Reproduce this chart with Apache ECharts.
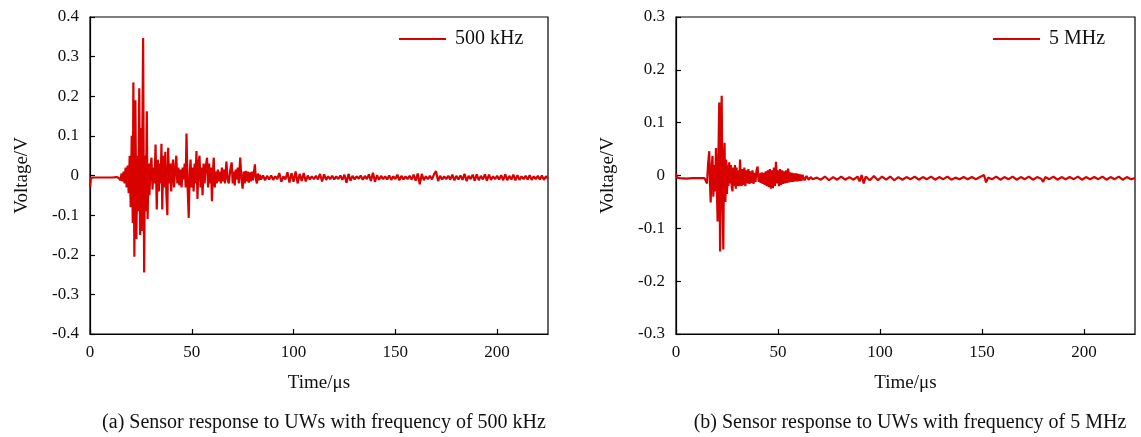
<!DOCTYPE html>
<html>
<head>
<meta charset="utf-8">
<script src="https://cdn.jsdelivr.net/npm/echarts@6/dist/echarts.min.js"></script>
<style>
  html, body { margin: 0; padding: 0; background: #fff; }
  #chart { width: 1141px; height: 437px; }
</style>
</head>
<body>
<div id="chart"></div>
<script>
// x ticks shared by both panels
const timeTicks = [0, 50, 100, 150, 200];

// (a) 500 kHz, [time us, voltage V]
const burst500k = [
  [0, -0.03], [0.5, -0.006], [2, -0.005], [5, -0.005], [8, -0.005], [11, -0.005], [13, -0.004], [14, -0.006],
  [14.5, -0.002], [15, -0.012], [15.5, 0.005], [16, -0.015], [16.5, 0.01], [17, -0.02], [17.5, 0.02], [18, -0.03],
  [18.5, 0.025], [19, -0.045], [19.5, 0.05], [20, -0.08], [20.5, 0.1], [21, -0.12], [21.3, 0.235], [21.8, -0.205],
  [22.3, 0.19], [22.8, -0.16], [23.3, 0.05], [23.7, -0.09], [24.2, 0.22], [24.6, -0.15], [25, 0.12], [25.4, -0.14],
  [25.7, 0.1], [26.1, 0.347], [26.6, -0.245], [27, 0.05], [27.4, -0.09], [27.9, 0.162], [28.3, -0.11], [28.8, 0.03],
  [29.2, -0.05], [29.7, 0.02], [30.2, 0.045], [30.7, -0.035], [31.2, 0.02], [31.7, -0.02], [32.2, 0.078], [32.8, -0.086],
  [33.3, 0.04], [33.8, -0.04], [34.3, 0.03], [34.7, -0.02], [35.1, 0.08], [35.5, -0.086], [36, 0.05], [36.5, -0.03],
  [37, 0.06], [37.5, -0.045], [38, -0.1], [38.4, 0.07], [38.9, -0.02], [39.4, 0.03], [39.9, -0.04], [40.4, 0.02],
  [40.8, 0.04], [41.3, -0.03], [41.8, 0.01], [42.4, 0.05], [42.9, -0.02], [43.4, 0.02], [43.9, -0.025], [44.4, 0.015],
  [45, -0.03], [45.5, 0.02], [46, -0.01], [46.5, 0.03], [47, -0.03], [47.4, 0.106], [47.9, -0.02], [48.5, -0.107],
  [49, 0.01], [49.4, 0.04], [49.9, -0.03], [50.4, 0.02], [50.9, -0.04], [51.4, 0.03], [51.8, -0.02], [52.3, 0.062],
  [52.8, -0.059], [53.3, 0.03], [53.8, 0.05], [54.3, -0.03], [54.8, 0.02], [55.3, -0.05], [55.8, 0.03], [56.3, -0.02],
  [56.8, 0.02], [57.5, 0.045], [58, -0.03], [58.5, 0.03], [59, -0.02], [59.5, 0.02], [59.9, -0.065], [60.4, 0.01],
  [60.8, 0.045], [61.3, -0.03], [61.8, 0.01], [62.3, -0.02], [62.8, 0.015], [63.3, -0.015], [63.8, 0.01], [64.3, -0.02],
  [64.8, 0.02], [65.3, -0.015], [65.8, 0.015], [66.3, -0.02], [67, 0.035], [67.6, -0.01], [68.2, -0.02], [68.8, 0.01],
  [69.6, 0.033], [70.1, -0.02], [70.6, 0.01], [71.1, -0.025], [71.6, 0.015], [72.1, -0.01], [72.6, 0.02], [73.1, -0.02],
  [73.8, 0.045], [74.4, -0.01], [75, -0.033], [75.5, 0.01], [76, -0.02], [76.5, 0.012], [77, -0.015], [77.5, 0.01],
  [78, -0.018], [78.5, 0.008], [79, -0.015], [79.5, 0.01], [80, -0.012], [80.5, 0.005], [81, 0.028], [81.5, -0.01],
  [82, -0.02], [82.5, 0.005], [83, -0.012], [83.5, 0.002], [84, -0.01]
];
const tail500k = [
  [85, 0.0], [86, -0.012], [87, -0.001], [88, -0.01], [89, 0.0], [90, -0.011], [91, -0.002], [92, -0.009],
  [93, 0.006], [94, -0.016], [95, -0.002], [96, -0.01], [97, 0.008], [98, -0.018], [99, 0.006], [100, -0.016],
  [101, 0.01], [102, -0.02], [103, 0.004], [104, -0.014], [105, 0.006], [106, -0.015], [107, 0.0], [108, -0.01],
  [109, -0.002], [110, -0.009], [111, -0.001], [112, -0.01], [113, 0.004], [114, -0.015], [115, 0.003], [116, -0.011],
  [117, -0.002], [118, -0.009], [119, -0.001], [120, -0.01], [121, -0.002], [122, -0.009], [123, 0.0], [124, -0.011],
  [125, 0.002], [126, -0.018], [127, 0.004], [128, -0.013], [129, -0.001], [130, -0.01], [131, -0.002], [132, -0.008],
  [133, 0.0], [134, -0.011], [135, -0.001], [136, -0.009], [137, 0.003], [138, -0.014], [139, 0.007], [140, -0.016],
  [141, 0.001], [142, -0.011], [143, -0.001], [144, -0.009], [145, -0.002], [146, -0.01], [147, 0.0], [148, -0.011],
  [149, -0.002], [150, -0.009], [151, 0.002], [152, -0.012], [153, -0.001], [154, -0.01], [155, -0.002], [156, -0.009],
  [157, -0.001], [158, -0.01], [159, 0.002], [160, -0.013], [161, 0.005], [162, -0.022], [163, 0.004], [164, -0.012],
  [165, -0.002], [166, -0.009], [167, -0.001], [168, -0.01], [169, 0.003], [170, 0.011], [171, -0.014], [172, -0.001],
  [173, -0.01], [174, -0.002], [175, -0.009], [176, -0.001], [177, -0.01], [178, 0.002], [179, -0.012], [180, -0.001],
  [181, -0.01], [182, 0.0], [183, -0.011], [184, 0.004], [185, -0.014], [186, -0.001], [187, -0.009], [188, 0.002],
  [189, -0.013], [190, 0.003], [191, -0.012], [192, -0.001], [193, -0.01], [194, 0.003], [195, -0.013], [196, 0.002],
  [197, -0.011], [198, -0.002], [199, -0.009], [200, -0.001], [201, -0.01], [202, 0.001], [203, -0.012], [204, 0.003],
  [205, -0.012], [206, -0.001], [207, -0.01], [208, 0.002], [209, -0.012], [210, 0.001], [211, -0.011], [212, -0.002],
  [213, -0.009], [214, -0.001], [215, -0.01], [216, 0.001], [217, -0.011], [218, -0.002], [219, -0.009], [220, -0.001],
  [221, -0.01], [222, 0.0], [223, -0.011], [224, -0.002], [225, -0.008]
];

// (b) 5 MHz
const burst5M = [
  [0, 0.004], [0.5, -0.004], [2, -0.005], [5, -0.006], [8, -0.005], [11, -0.005], [14, -0.005], [14.7, -0.004],
  [15.2, -0.015], [15.7, 0.02], [16.3, 0.046], [16.7, -0.02], [17, -0.051], [17.4, 0.01], [17.9, 0.037], [18.3, -0.04],
  [18.8, 0.02], [19.2, -0.03], [19.6, 0.052], [20, -0.02], [20.4, -0.087], [20.8, 0.04], [21.2, 0.138], [21.6, -0.144],
  [22, 0.06], [22.4, 0.151], [22.8, -0.05], [23.2, -0.14], [23.5, 0.02], [23.8, 0.062], [24.2, -0.05], [24.6, 0.03],
  [25, -0.035], [25.4, 0.02], [25.7, -0.02], [26.1, 0.025], [26.5, -0.015], [26.9, 0.02], [27.3, -0.02], [27.7, -0.03],
  [28.1, 0.015], [28.5, -0.02], [28.9, 0.02], [29.3, -0.025], [29.7, 0.015], [30.1, -0.02], [30.5, 0.01], [31, -0.02],
  [31.4, 0.03], [31.8, -0.01], [32.2, -0.02], [32.6, 0.012], [33, -0.018], [33.5, 0.015], [34, -0.02], [34.5, 0.01],
  [35, -0.015], [35.5, 0.012], [36, -0.016], [36.5, 0.008], [37, -0.014], [37.5, 0.01], [38, -0.016], [38.5, 0.005],
  [39, -0.012], [39.5, 0.01], [40, 0.017], [40.5, -0.012], [41, 0.004], [41.5, -0.014], [42, 0.006], [42.5, -0.016],
  [43, 0.005], [43.5, -0.018], [44, 0.008], [44.5, -0.02], [45, 0.01], [45.5, -0.022], [46, 0.012], [46.5, -0.025],
  [47, 0.01], [47.5, -0.024], [48, 0.015], [48.5, -0.02], [49, 0.026], [49.5, -0.015], [50, 0.01], [50.5, -0.02],
  [51, 0.012], [51.5, -0.018], [52, 0.01], [52.5, -0.016], [53, 0.008], [53.5, -0.015], [54, 0.01], [54.5, -0.014],
  [55, 0.013], [55.5, -0.013], [56, 0.006], [56.5, -0.012], [57, 0.005], [57.5, -0.012], [58, 0.004], [58.5, -0.011],
  [59, 0.004], [59.5, -0.011], [60, 0.003], [60.5, -0.01], [61, 0.002], [61.5, -0.01], [62, 0.001], [63, -0.009],
  [64, -0.001], [65, -0.008], [66, -0.003], [67, -0.007]
];
const tail5M = [
  [69, -0.004], [71, -0.008], [73, -0.002], [75, -0.009], [77, -0.003], [79, -0.008], [81, -0.002], [83, -0.008],
  [85, -0.003], [87, -0.008], [89, -0.002], [90, -0.011], [91, 0.001], [92, -0.015], [93, -0.002], [95, -0.009],
  [97, -0.001], [99, -0.009], [101, -0.002], [103, -0.008], [105, -0.002], [107, -0.009], [109, -0.003], [111, -0.008],
  [113, -0.003], [115, -0.007], [117, -0.002], [119, -0.008], [121, -0.003], [123, -0.007], [125, -0.002], [127, -0.008],
  [129, -0.003], [131, -0.007], [133, -0.002], [135, -0.008], [137, -0.004], [139, -0.007], [141, -0.003], [143, -0.007],
  [145, -0.003], [147, -0.007], [149, -0.003], [151, 0.001], [152, -0.013], [153, -0.004], [155, -0.007], [157, -0.002],
  [159, -0.008], [161, -0.003], [163, -0.007], [165, -0.002], [167, -0.008], [169, -0.003], [171, -0.007], [173, -0.002],
  [175, -0.008], [177, -0.003], [179, -0.006], [180, -0.012], [181, -0.003], [183, -0.007], [185, -0.002], [187, -0.008],
  [189, -0.003], [191, -0.007], [193, -0.003], [195, -0.007], [197, -0.002], [199, -0.008], [201, -0.003], [203, -0.007],
  [205, -0.003], [207, -0.007], [209, -0.002], [211, -0.008], [213, -0.003], [215, -0.007], [217, -0.002], [219, -0.008],
  [221, -0.003], [223, -0.007], [225, -0.005]
];

const captions = [
  '(a) Sensor response to UWs with frequency of 500 kHz',
  '(b) Sensor response to UWs with frequency of 5 MHz'
];

const FONT = "'Liberation Serif', 'Times New Roman', serif";
const RED = '#d90000';

const chart = echarts.init(document.getElementById('chart'));

function xAxisFor(gridIndex) {
  return {
    gridIndex: gridIndex,
    type: 'value',
    min: 0,
    max: 225,
    interval: 50,
    name: 'Time/\u03bcs',
    nameLocation: 'middle',
    nameGap: 40,
    nameTextStyle: { fontFamily: FONT, fontSize: 19, color: '#111' },
    axisLine: { onZero: false, lineStyle: { color: '#000', width: 1.2 } },
    axisTick: { inside: true, length: 5, lineStyle: { color: '#000', width: 1.2 } },
    axisLabel: {
      showMaxLabel: false,
      margin: 10,
      fontFamily: FONT, fontSize: 17, color: '#111',
      formatter: v => (timeTicks.indexOf(v) >= 0 ? String(v) : '')
    },
    splitLine: { show: false }
  };
}

function yAxisFor(gridIndex, lim) {
  return {
    gridIndex: gridIndex,
    type: 'value',
    min: -lim,
    max: lim,
    interval: 0.1,
    name: 'Voltage/V',
    nameLocation: 'middle',
    nameGap: 58,
    nameTextStyle: { fontFamily: FONT, fontSize: 19, color: '#111' },
    axisLine: { onZero: false, lineStyle: { color: '#000', width: 1.2 } },
    axisTick: { inside: true, length: 5, lineStyle: { color: '#000', width: 1.2 } },
    axisLabel: {
      margin: 11,
      fontFamily: FONT, fontSize: 17, color: '#111',
      formatter: v => (Math.abs(v) < 1e-9 ? '0' : v.toFixed(1))
    },
    splitLine: { show: false }
  };
}

function legendFor(name, left) {
  return {
    data: [name],
    left: left,
    top: 24,
    icon: 'rect',
    itemWidth: 47,
    itemHeight: 2,
    itemStyle: { color: RED },
    textStyle: { fontFamily: FONT, fontSize: 20, color: '#111', padding: [0, 0, 0, 4] }
  };
}

const option = {
  animation: false,
  backgroundColor: '#fff',
  grid: [
    { left: 90, top: 17, width: 458, height: 317, show: true, borderColor: '#000', borderWidth: 1.2 },
    { left: 676, top: 17, width: 459, height: 317, show: true, borderColor: '#000', borderWidth: 1.2 }
  ],
  xAxis: [xAxisFor(0), xAxisFor(1)],
  yAxis: [yAxisFor(0, 0.4), yAxisFor(1, 0.3)],
  legend: [legendFor('500 kHz', 394), legendFor('5 MHz', 988)],
  title: [
    { text: captions[0], left: 319, top: 408, textAlign: 'center',
      textStyle: { fontFamily: FONT, fontSize: 20, fontWeight: 'normal', color: '#111' } },
    { text: captions[1], left: 905, top: 408, textAlign: 'center',
      textStyle: { fontFamily: FONT, fontSize: 20, fontWeight: 'normal', color: '#111' } }
  ],
  series: [
    {
      name: '500 kHz', type: 'line', xAxisIndex: 0, yAxisIndex: 0,
      showSymbol: false, symbol: 'none',
      lineStyle: { color: RED, width: 2.2 },
      itemStyle: { color: RED },
      data: burst500k.concat(tail500k)
    },
    {
      name: '5 MHz', type: 'line', xAxisIndex: 1, yAxisIndex: 1,
      showSymbol: false, symbol: 'none',
      lineStyle: { color: RED, width: 2.2 },
      itemStyle: { color: RED },
      data: burst5M.concat(tail5M)
    }
  ]
};

chart.setOption(option);
</script>
</body>
</html>
